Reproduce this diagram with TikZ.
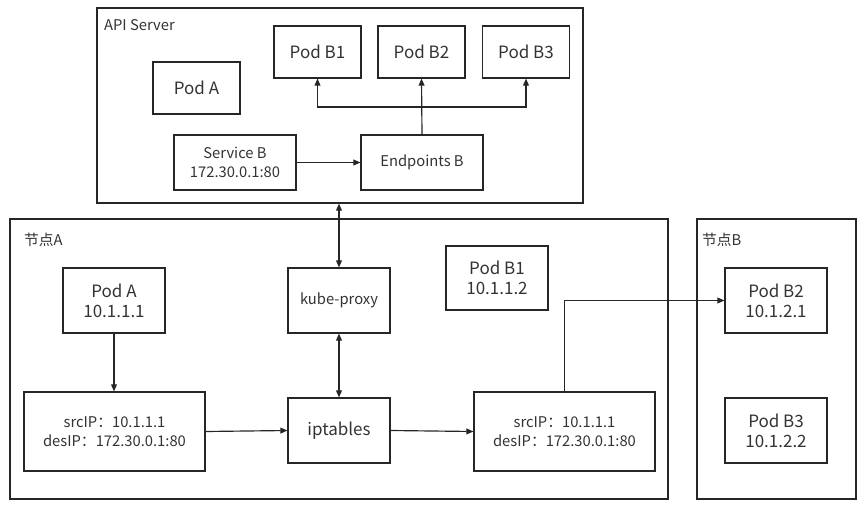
\documentclass[tikz,border=0pt]{standalone}
\usepackage{fontspec}
\setmainfont{Noto Sans CJK SC}
\usetikzlibrary{arrows.meta,positioning,calc}

\tikzset{
    frame/.style={draw, line width=1pt, inner sep=0pt},
    box/.style={draw, line width=1pt, align=center, inner sep=0pt, text=black!80},
    pod/.style={box, font=\fontsize{14.5}{17}\selectfont},
    small/.style={box, font=\fontsize{12.6}{15.8}\selectfont},
    label/.style={anchor=west, text=black!80, font=\fontsize{12.6}{14}\selectfont},
    arr/.style={-{Triangle[length=6pt,width=5pt]}, line width=1pt},
    dbl/.style={{Triangle[length=6pt,width=5pt]}-{Triangle[length=6pt,width=5pt]}, line width=1pt}
}

\begin{document}
\begin{tikzpicture}[x=0.03cm, y=-0.03cm, draw=black!85]
    \useasboundingbox (0,0) rectangle (865,505);

    \node[frame, minimum width=14.58cm, minimum height=5.85cm] (api) at (340,105.5) {};
    \node[frame, minimum width=19.74cm, minimum height=8.4cm] (nodea) at (339,359) {};
    \node[frame, minimum width=4.77cm, minimum height=8.4cm] (nodeb) at (776.5,359) {};

    \node[label] (apilabel) at (100,25) {API Server};
    \node[label] (nodealabel) at (20,240) {节点A};
    \node[label] (nodeblabel) at (698,240) {节点B};

    \node[pod, minimum width=2.61cm, minimum height=1.56cm] (podbone) at (317.5,52) {Pod B1};
    \node[pod, minimum width=2.61cm, minimum height=1.56cm] (podbtwo) at (421.5,52) {Pod B2};
    \node[pod, minimum width=2.61cm, minimum height=1.56cm] (podbthree) at (526,52) {Pod B3};
    \node[pod, minimum width=2.61cm, minimum height=1.56cm] (podatop) at (196.5,88) {Pod A};
    \node[small, minimum width=3.66cm, minimum height=1.65cm] (svc) at (235,162.5) {Service B\\172.30.0.1:80};
    \node[small, minimum width=3.66cm, minimum height=1.65cm] (ep) at (422,162.5) {Endpoints B};

    \node[pod, minimum width=3.06cm, minimum height=1.95cm] (poda) at (114,300.5) {Pod A\\10.1.1.1};
    \node[small, minimum width=3.06cm, minimum height=1.95cm] (proxy) at (339,300.5) {kube-proxy};
    \node[pod, minimum width=3.06cm, minimum height=1.92cm] (podlocal) at (497,278) {Pod B1\\10.1.1.2};
    \node[small, minimum width=5.43cm, minimum height=2.37cm] (src) at (114.5,431.5) {srcIP：10.1.1.1\\desIP：172.30.0.1:80};
    \node[pod, minimum width=3.06cm, minimum height=1.95cm] (ipt) at (339,430.5) {iptables};
    \node[small, minimum width=5.43cm, minimum height=2.37cm] (dst) at (564.5,431.5) {srcIP：10.1.1.1\\desIP：172.30.0.1:80};

    \node[pod, minimum width=3.06cm, minimum height=1.95cm] (podremote) at (776,300.5) {Pod B2\\10.1.2.1};
    \node[pod, minimum width=3.06cm, minimum height=1.95cm] (podother) at (776,430.5) {Pod B3\\10.1.2.2};

    \coordinate (fork) at (422,107);
    \draw[arr] (svc.east) -- (ep.west);
    \draw[arr] (ep.north) -- (podbtwo.south);
    \draw[arr] (fork) -| (podbone.south);
    \draw[arr] (fork) -| (podbthree.south);

    \draw[dbl] (api.south -| proxy.north) -- (proxy.north);
    \draw[dbl] (proxy.south) -- (ipt.north);
    \draw[arr] (poda.south) -- (src.north -| poda.south);
    \draw[arr] (src.east) -- (ipt.west);
    \draw[arr] (ipt.east) -- (dst.west);
    \draw[arr] (dst.north) |- (podremote.west);
\end{tikzpicture}
\end{document}
